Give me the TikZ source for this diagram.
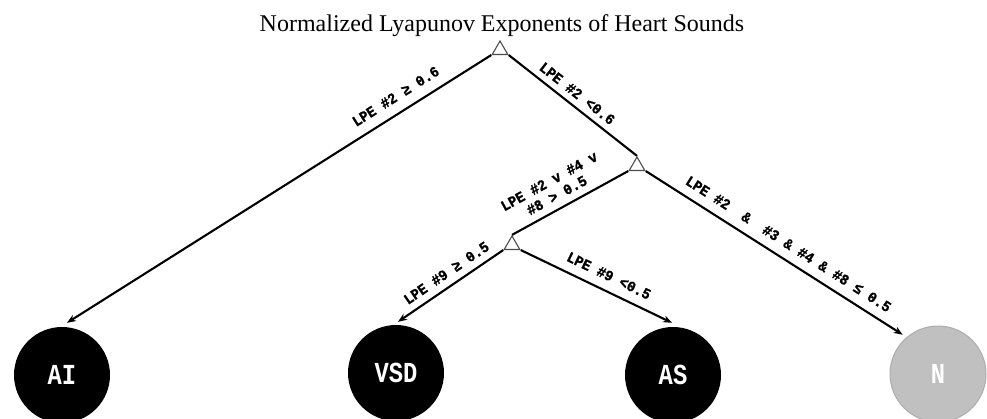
\documentclass[tikz,border=0pt]{standalone}
\usepackage{fontspec}
\setmainfont{Liberation Serif}
\newfontfamily\lblfont[FakeStretch=0.92,FakeBold=1.2]{Liberation Mono}
\newfontfamily\leaffont[FakeStretch=0.82]{Liberation Mono}
\usetikzlibrary{arrows.meta,shapes.geometric}
\definecolor{leafgray}{RGB}{192,192,192}
\definecolor{leafedge}{RGB}{172,172,172}
\begin{document}
\begin{tikzpicture}[x=1pt,y=-1pt,
  split/.style={regular polygon, regular polygon sides=3, draw=black!70, line width=1.1pt, fill=white, minimum size=18pt, inner sep=0pt},
  leaf/.style={circle, fill=black, minimum size=96pt, inner sep=0pt, text=white, font=\leaffont\bfseries\fontsize{29}{31}\selectfont},
  conn/.style={line width=2.1pt, -{Stealth[length=9pt,width=7pt]}},
  link/.style={line width=2.1pt},
  lbl/.style={font=\lblfont\bfseries\fontsize{15}{16}\selectfont, sloped, inner sep=0pt, align=center}
]
\useasboundingbox (0,0) rectangle (987,419);
\node[font=\fontsize{24}{28}\selectfont, anchor=base] (title) at (502,32) {Normalized Lyapunov Exponents of Heart Sounds};

\node[split] (root) at (500,50) {};
\node[split] (s2) at (637,166) {};
\node[split] (s3) at (512,245) {};

\node[leaf] (AI) at (62,375) {AI};
\node[leaf] (VSD) at (396,373) {VSD};
\node[leaf] (AS) at (673,375) {AS};
\node[leaf, fill=leafgray, draw=leafedge, line width=1pt] (N) at (938,374) {N};

\draw[conn] (root.corner 2) -- node[lbl, above=10pt, pos=0.205] (l1) {LPE \#2 ≥ 0.6} ([xshift=5pt,yshift=4pt]AI.north);
\draw[link] (root.corner 3) -- node[lbl, above=6pt, pos=0.476] (l2) {LPE \#2 <0.6} (s2.corner 1);
\draw[link] (s2.corner 2) -- node[lbl, above=7pt, pos=0.56] (l3) {LPE \#2 v \#4 v\\\#8 > 0.5} (s3.corner 1);
\draw[conn] (s2.corner 3) -- node[lbl, above=9pt, pos=0.524] (l6) {LPE \#2 \ \& \ \#3 \& \#4 \& \#8 ≤ 0.5} ([xshift=-1pt,yshift=5pt]N.north west);
\draw[conn] (s3.corner 2) -- node[lbl, above=7pt, pos=0.47] (l4) {LPE \#9 ≥ 0.5} ([xshift=2pt,yshift=3pt]VSD.north);
\draw[conn] (s3.corner 3) -- node[lbl, above=9pt, pos=0.54] (l5) {LPE \#9 <0.5} ([xshift=-1pt,yshift=4pt]AS.north);
\end{tikzpicture}
\end{document}
